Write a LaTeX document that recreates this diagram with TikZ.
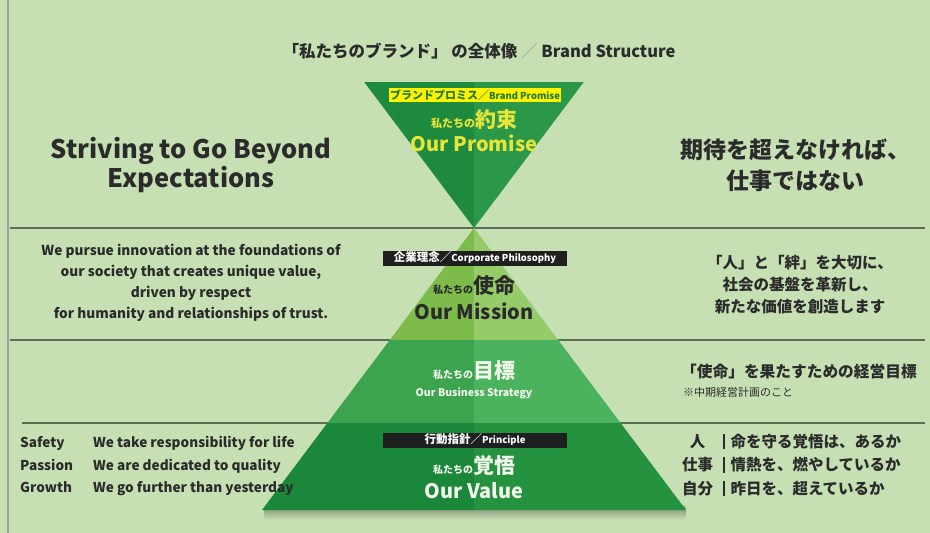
\documentclass[tikz,border=0pt]{standalone}
\usepackage{fontspec}
\setmainfont{Noto Sans CJK JP}
\usetikzlibrary{positioning}

\definecolor{bg}{HTML}{C6E0B4}
\definecolor{rulecol}{HTML}{5E6D56}
\definecolor{promL}{HTML}{1E8A3E}
\definecolor{promR}{HTML}{2A9848}
\definecolor{misL}{HTML}{7DBB4B}
\definecolor{misR}{HTML}{95CB68}
\definecolor{strL}{HTML}{3CA34E}
\definecolor{strR}{HTML}{4BB25D}
\definecolor{valL}{HTML}{1B873A}
\definecolor{valR}{HTML}{24923F}
\definecolor{ylw}{HTML}{FFF200}
\definecolor{ylwtxt}{HTML}{E8E53A}
\definecolor{dgreen}{HTML}{1F7A32}
\definecolor{ink}{HTML}{2B2B2B}
\definecolor{paper}{HTML}{F2F7EC}

\newcommand{\fsz}[1]{\fontsize{#1}{#1}\selectfont}

\begin{document}
\begin{tikzpicture}[x=1pt,y=-1pt,
  darktxt/.style={text=ink,font=\bfseries,inner sep=0pt},
  whitetxt/.style={text=paper,font=\bfseries,inner sep=0pt},
  ybox/.style={fill=ylw,text=dgreen,font=\bfseries\fsz{11},minimum width=172pt,minimum height=14pt,inner sep=0pt},
  kbox/.style={fill=black!88,text=white,font=\bfseries\fsz{11.5},minimum width=184pt,minimum height=15pt,inner sep=0pt},
  hrule/.style={rulecol,line width=1.5pt}]
\useasboundingbox (0,0) rectangle (930,533);
\fill[bg] (0,0) rectangle (930,533);
\draw[gray!75,line width=1.5pt] (8,0)--(8,533);

% rules
\draw[hrule] (10,228)--(925,228);
\draw[hrule] (10,340)--(925,340);
\draw[hrule] (22,423)--(925,423);

% promise (inverted)
\fill[promL] (364.2,82)--(474,82)--(474,228)--cycle;
\fill[promR] (474,82)--(583.8,82)--(474,228)--cycle;

% pyramid
\shade[rounded corners=4pt,top color=black!40!bg,bottom color=bg] (264,505) rectangle (686,520);
\fill[misL] (474,228)--(389.8,340)--(474,340)--cycle;
\fill[misR] (474,228)--(558.2,340)--(474,340)--cycle;
\fill[strL] (389.8,340)--(327.4,423)--(474,423)--(474,340)--cycle;
\fill[strR] (558.2,340)--(620.6,423)--(474,423)--(474,340)--cycle;
\fill[valL] (327.4,423)--(262,510)--(474,510)--(474,423)--cycle;
\fill[valR] (620.6,423)--(686,510)--(474,510)--(474,423)--cycle;

% title
\node[darktxt,font=\bfseries\fsz{16.5}] (title) at (479,51)
  {「私たちのブランド」 の全体像 \textcolor{gray!70}{／} Brand Structure};

% promise
\node[ybox] (pbox) at (475,95) {ブランドプロミス／{\fsz{9.5}Brand Promise}};
\node[darktxt,text=ylwtxt] (pjp) at (474,120) {{\fsz{11}私たちの}{\fsz{21}約束}};
\node[darktxt,text=ylwtxt,font=\bfseries\fsz{20}] (pen) at (474,143) {Our Promise};
\node[darktxt,font=\bfseries\fontsize{25.5}{29}\selectfont,align=center] (goal) at (191,165)
  {Striving to Go Beyond\\Expectations};
\node[darktxt,font=\bfseries\fontsize{23}{31}\selectfont,align=center] (goaljp) at (795,165)
  {期待を超えなければ、\\仕事ではない};

% mission
\node[kbox] (mbox) at (475,258) {企業理念／{\fsz{9.5}Corporate Philosophy}};
\node[darktxt] (mjp) at (474,286) {{\fsz{10}私たちの}{\fsz{21}使命}};
\node[darktxt,font=\bfseries\fsz{20}] (men) at (474,311) {Our Mission};
\node[darktxt,font=\bfseries\fontsize{13.7}{21}\selectfont,align=center] (mtext) at (191,283)
  {We pursue innovation at the foundations of\\our society that creates unique value,\\driven by respect\\for humanity and relationships of trust.};
\node[darktxt,font=\bfseries\fontsize{15.5}{22}\selectfont,align=center] (mtextjp) at (800,285)
  {「人」と「絆」を大切に、\\社会の基盤を革新し、\\新たな価値を創造します};

% strategy
\node[whitetxt] (sjp) at (474,371) {{\fsz{10}私たちの}{\fsz{21}目標}};
\node[whitetxt,font=\bfseries\fsz{10.5}] (sen) at (474,393) {Our Business Strategy};
\node[darktxt,font=\bfseries\fsz{15.7},anchor=west] (stextjp) at (681,372) {「使命」を果たすための経営目標};
\node[darktxt,font=\fsz{11},anchor=west] (snote) at (683,392) {※中期経営計画のこと};

% value
\node[kbox] (vbox) at (475,440) {行動指針／{\fsz{9.5}Principle}};
\node[whitetxt] (vjp) at (474,466) {{\fsz{10}私たちの}{\fsz{21}覚悟}};
\node[whitetxt,font=\bfseries\fsz{20}] (ven) at (474,491) {Our Value};
\node[darktxt,font=\bfseries\fontsize{13.6}{22.5}\selectfont,align=left,anchor=west] (vtext) at (20,466)
  {\makebox[73pt][l]{Safety}We take responsibility for life\\
   \makebox[73pt][l]{Passion}We are dedicated to quality\\
   \makebox[73pt][l]{Growth}We go further than yesterday};
\node[darktxt,font=\bfseries\fontsize{15.5}{23.5}\selectfont,align=left,anchor=west] (vtextjp) at (683,465)
  {\makebox[29pt]{人}\hspace{11pt}\rule[-0.12em]{1.3pt}{1em}\hspace{6pt}命を守る覚悟は、あるか\\
   \makebox[29pt]{仕事}\hspace{11pt}\rule[-0.12em]{1.3pt}{1em}\hspace{6pt}情熱を、燃やしているか\\
   \makebox[29pt]{自分}\hspace{11pt}\rule[-0.12em]{1.3pt}{1em}\hspace{6pt}昨日を、超えているか};
\end{tikzpicture}
\end{document}
